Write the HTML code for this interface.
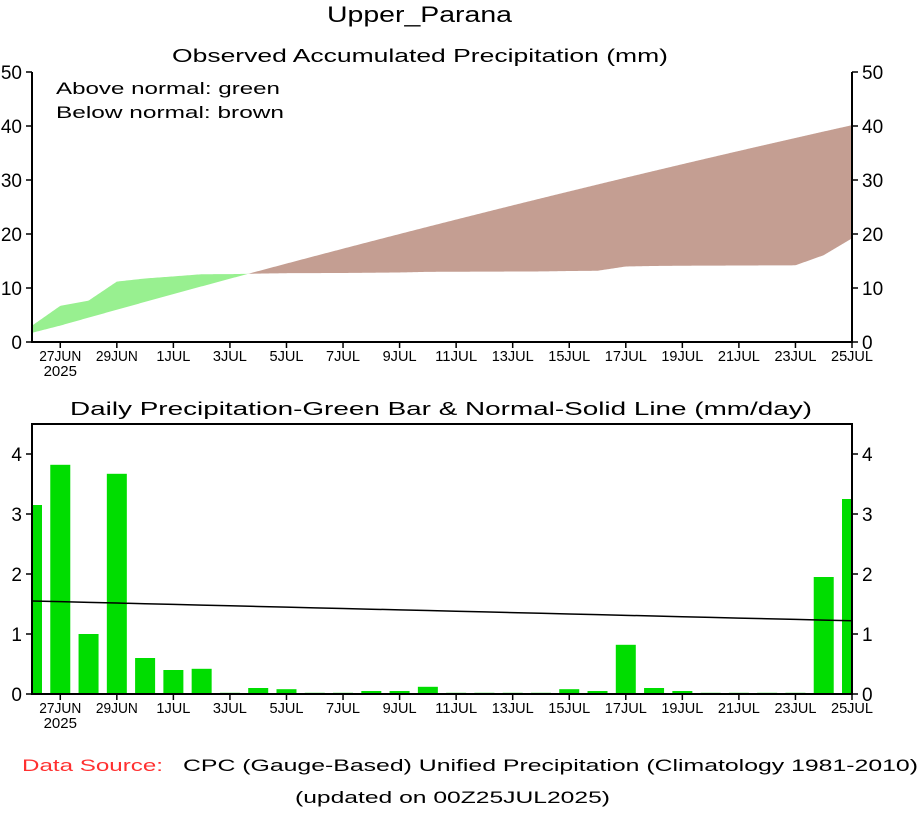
<!DOCTYPE html>
<html><head><meta charset="utf-8"><style>
body{margin:0;background:#fff;width:922px;height:809px;overflow:hidden}
svg text{font-family:"Liberation Sans",sans-serif;fill:#000}
</style></head><body>
<svg id="s" width="922" height="809" xmlns="http://www.w3.org/2000/svg">
<text x="327" y="22" font-size="22" textLength="185" lengthAdjust="spacingAndGlyphs">Upper_Parana</text>
<text x="172" y="62" font-size="18" textLength="496" lengthAdjust="spacingAndGlyphs">Observed Accumulated Precipitation (mm)</text>
<text x="56" y="94" font-size="17" textLength="224" lengthAdjust="spacingAndGlyphs">Above normal: green</text>
<text x="56" y="118" font-size="17" textLength="228" lengthAdjust="spacingAndGlyphs">Below normal: brown</text>
<text x="70" y="415" font-size="18" textLength="742" lengthAdjust="spacingAndGlyphs">Daily Precipitation-Green Bar &amp; Normal-Solid Line (mm/day)</text>
<text x="22" y="771" font-size="17" style="fill:#ff3030" textLength="141" lengthAdjust="spacingAndGlyphs">Data Source:</text>
<text x="183" y="771" font-size="17" textLength="735" lengthAdjust="spacingAndGlyphs">CPC (Gauge-Based) Unified Precipitation (Climatology 1981-2010)</text>
<text x="295" y="803" font-size="17" textLength="315" lengthAdjust="spacingAndGlyphs">(updated on 00Z25JUL2025)</text>
<g id="g"></g>
</svg>
<script>
var bars=[3.15,3.82,1.0,3.67,0.6,0.4,0.42,0.02,0.1,0.08,0.02,0.02,0.05,0.05,0.12,0.02,0.02,0.02,0.02,0.08,0.05,0.82,0.1,0.05,0.02,0.02,0.02,0.02,1.95,3.25];
var X0=32,X1=852,dx=(X1-X0)/29;
function tx(i){return X0+i*dx}
var h='';
var norm=[];for(var i=0;i<30;i++){norm.push(1.55-0.33*i/29);}
var cn=[],co=[],a=0,b=0;for(i=0;i<30;i++){a+=norm[i];b+=bars[i];cn.push(a);co.push(b*19.2/19.98);}
var sc=(40.3-1.7)/(cn[29]-cn[0]);for(i=0;i<30;i++)cn[i]=1.7+(cn[i]-cn[0])*sc;
function ty(v){return 342-v*5.4}
var N=600,ptsG1=[],ptsG2=[],ptsB1=[],ptsB2=[];
for(var k=0;k<=N;k++){var t=k/N*29,i0=Math.min(28,Math.floor(t)),f=t-i0;
var o=co[i0]+(co[i0+1]-co[i0])*f,n=cn[i0]+(cn[i0+1]-cn[i0])*f,x=tx(t);
ptsG1.push(x+','+ty(Math.max(o,n)));ptsG2.unshift(x+','+ty(n));
ptsB1.push(x+','+ty(n));ptsB2.unshift(x+','+ty(Math.min(o,n)));}
h+='<polygon fill="#98f090" points="'+ptsG1.concat(ptsG2).join(' ')+'"/>';
h+='<polygon fill="#c49e92" points="'+ptsB1.concat(ptsB2).join(' ')+'"/>';
h+='<path d="M32 72V342H852V72" fill="none" stroke="#000" stroke-width="2"/>';
for(var v=0;v<=50;v+=10){var y=ty(v);h+='<path d="M26 '+y+'H32M852 '+y+'H858" stroke="#000" stroke-width="1.5"/>';
h+='<text x="22" y="'+(y+7)+'" font-size="19" text-anchor="end">'+v+'</text><text x="862" y="'+(y+7)+'" font-size="19">'+v+'</text>';}
var labs={1:'27JUN',3:'29JUN',5:'1JUL',7:'3JUL',9:'5JUL',11:'7JUL',13:'9JUL',15:'11JUL',17:'13JUL',19:'15JUL',21:'17JUL',23:'19JUL',25:'21JUL',27:'23JUL',29:'25JUL'};
function xlabels(yb){for(var i=1;i<30;i+=2){var x=tx(i);var L=labs[i];var w=L.length>=5?42:(L.length==4?34:36);h+='<path d="M'+x+' '+yb+'v6" stroke="#000" stroke-width="1.5"/><text x="'+x+'" y="'+(yb+19)+'" font-size="15" text-anchor="middle" textLength="'+w+'" lengthAdjust="spacingAndGlyphs">'+L+'</text>';}
h+='<text x="'+tx(1)+'" y="'+(yb+34)+'" font-size="15" text-anchor="middle">2025</text>';}
xlabels(342);
function by(v){return 694-v*60}
for(i=0;i<30;i++){var l=Math.max(X0,tx(i)-10),r=Math.min(X1,tx(i)+10);h+='<rect fill="#00dd00" x="'+l+'" y="'+by(bars[i])+'" width="'+(r-l)+'" height="'+(bars[i]*60)+'"/>';}
var pl=[];for(i=0;i<30;i++){pl.push(tx(i)+','+by(norm[i]));}
h+='<polyline fill="none" stroke="#000" stroke-width="1.5" points="'+pl.join(' ')+'"/>';
h+='<path d="M32 424V694H852V424Z" fill="none" stroke="#000" stroke-width="2"/>';
for(v=0;v<=4;v++){y=by(v);h+='<path d="M26 '+y+'H32M852 '+y+'H858" stroke="#000" stroke-width="1.5"/>';
h+='<text x="22" y="'+(y+7)+'" font-size="19" text-anchor="end">'+v+'</text><text x="862" y="'+(y+7)+'" font-size="19">'+v+'</text>';}
xlabels(694);
document.getElementById('g').innerHTML=h;
</script>
</body></html>
